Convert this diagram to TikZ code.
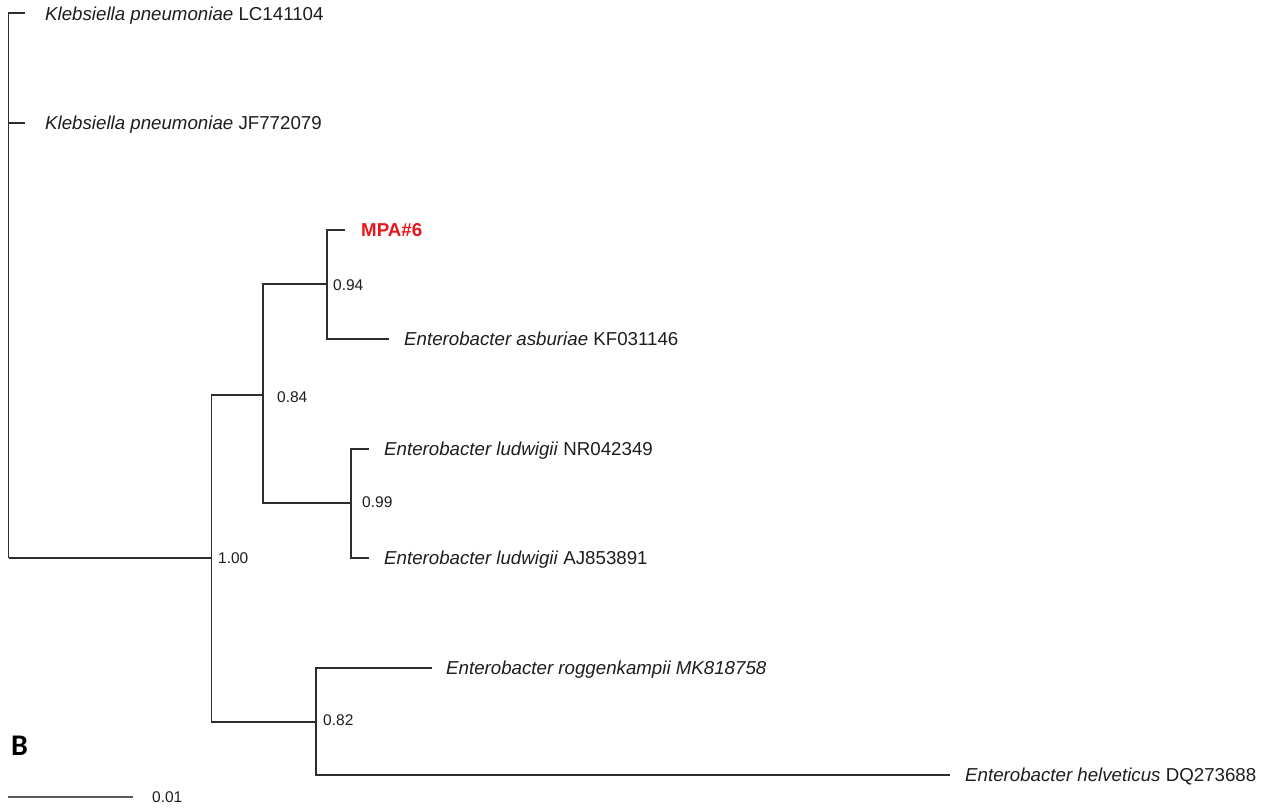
\documentclass[tikz,border=0pt]{standalone}
\usepackage{fontspec}
\setmainfont{Liberation Sans}
\newfontfamily\carlito{Carlito}
\definecolor{treeline}{RGB}{45,45,45}
\definecolor{txt}{RGB}{30,30,30}
\definecolor{mpared}{RGB}{232,22,28}
\definecolor{barcol}{RGB}{90,90,90}
\begin{document}
\begin{tikzpicture}[x=1pt,y=-1pt,
  branch/.style={draw=treeline,line width=1.3pt},
  taxon/.style={anchor=base west,inner sep=0pt,text=txt,font=\fontsize{18.7}{22}\selectfont,yshift=-6.7pt},
  support/.style={anchor=base west,inner sep=0pt,text=txt,font=\fontsize{15.5}{18}\selectfont,yshift=-5.5pt}]
\useasboundingbox[fill=white] (0,0) rectangle (1276,809);
% internal nodes
\coordinate (root) at (8.5,558);
\coordinate (n100) at (211.5,558);
\coordinate (n084) at (263,395);
\coordinate (n094) at (327,284);
\coordinate (n099) at (351,503);
\coordinate (n082) at (316,722);
% leaf tips
\coordinate (kp1) at (25,13);
\coordinate (kp2) at (25,123);
\coordinate (mpa) at (345,230);
\coordinate (asb) at (389,339);
\coordinate (lud1) at (369,449);
\coordinate (lud2) at (369,558);
\coordinate (rog) at (432,668);
\coordinate (hel) at (950,775);
% branches
\draw[branch] (root) |- (kp1);
\draw[branch] (root) |- (kp2);
\draw[branch] (root) |- (n100);
\draw[branch] (n100) |- (n084);
\draw[branch] (n100) |- (n082);
\draw[branch] (n084) |- (n094);
\draw[branch] (n084) |- (n099);
\draw[branch] (n094) |- (mpa);
\draw[branch] (n094) |- (asb);
\draw[branch] (n099) |- (lud1);
\draw[branch] (n099) |- (lud2);
\draw[branch] (n082) |- (rog);
\draw[branch] (n082) |- (hel);
% taxon labels
\node[taxon] (tkp1) at (45,14) {\textit{Klebsiella pneumoniae} LC141104};
\node[taxon] (tkp2) at (45,123) {\textit{Klebsiella pneumoniae} JF772079};
\node[taxon,text=mpared,font=\fontsize{18.7}{22}\selectfont\bfseries] (tmpa) at (361,230) {MPA\#6};
\node[taxon] (tasb) at (404,339) {\textit{Enterobacter asburiae} KF031146};
\node[taxon] (tlud1) at (384,449) {\textit{Enterobacter ludwigii} NR042349};
\node[taxon] (tlud2) at (384,558) {\textit{Enterobacter ludwigii} AJ853891};
\node[taxon] (trog) at (446,668) {\textit{Enterobacter roggenkampii MK818758}};
\node[taxon] (thel) at (965,775) {\textit{Enterobacter helveticus} DQ273688};
% support values
\node[support] (s100) at (218,558) {1.00};
\node[support] (s084) at (277,397) {0.84};
\node[support] (s094) at (333,285) {0.94};
\node[support] (s099) at (362,502) {0.99};
\node[support] (s082) at (323,720) {0.82};
% panel letter
\node[anchor=base west,inner sep=0pt,text=black,font=\fontsize{30}{34}\selectfont\carlito\bfseries] (panel) at (11,755) {B};
% scale bar
\coordinate (sb1) at (8,797);
\coordinate (sb2) at (133,797);
\draw[draw=barcol,line width=2pt] (sb1) -- (sb2);
\node[support] (sblab) at (152,797) {0.01};
\end{tikzpicture}
\end{document}
